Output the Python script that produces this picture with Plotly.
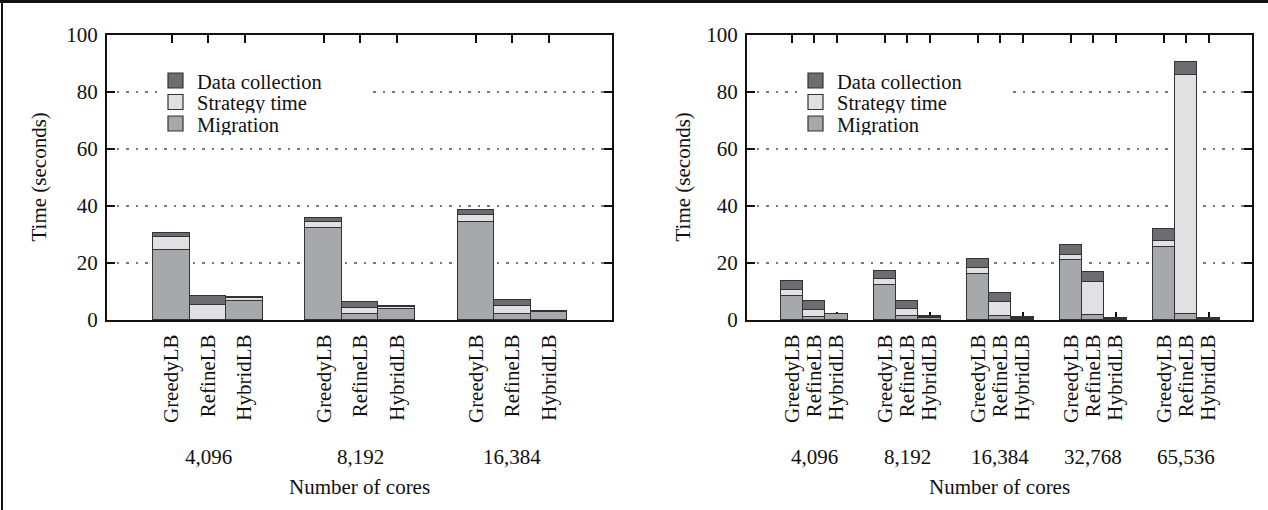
import plotly.graph_objects as go

# ---------------- data ----------------
methods = ["GreedyLB", "RefineLB", "HybridLB"]

left_cores = ["4,096", "8,192", "16,384"]
# order inside each list: for core count group -> [Greedy, Refine, Hybrid]
left_migration = [[24.6, 0.0, 6.6], [32.2, 2.0, 3.9], [34.5, 2.2, 2.8]]
left_strategy = [[4.6, 5.3, 1.0], [2.1, 2.2, 0.7], [2.5, 2.6, 0.2]]
left_data = [[1.2, 3.2, 0.6], [1.6, 2.1, 0.2], [1.5, 2.1, 0.3]]

right_cores = ["4,096", "8,192", "16,384", "32,768", "65,536"]
right_migration = [[8.5, 0.9, 2.0], [12.3, 1.3, 0.8], [16.0, 1.4, 0.5],
                   [20.9, 1.6, 0.3], [25.5, 2.0, 0.3]]
right_strategy = [[1.9, 2.7, 0.1], [2.0, 2.4, 0.1], [2.1, 4.9, 0.1],
                  [2.0, 11.6, 0.05], [2.1, 84.1, 0.05]]
right_data = [[3.2, 3.1, 0.1], [3.0, 3.1, 0.6], [3.3, 3.3, 0.3],
              [3.3, 3.5, 0.25], [4.2, 4.3, 0.25]]

series_names = ["Migration", "Strategy time", "Data collection"]
series_colors = ["#a7a8ac", "#e1e1e3", "#6d6d71"]

# ---------------- layout helpers ----------------
FONT = "Liberation Serif"
TXT = "#111111"
W, H = 1268, 510
GROUP_STEP = 4.17


def positions(n_groups):
    xs, labels = [], []
    for g in range(n_groups):
        for j, m in enumerate(methods):
            xs.append(g * GROUP_STEP + j)
            labels.append(m)
    return xs, labels


def flat(arr):
    return [v for grp in arr for v in grp]


fig = go.Figure()

panels = [
    ("x", "y", left_cores, [left_migration, left_strategy, left_data]),
    ("x2", "y2", right_cores, [right_migration, right_strategy, right_data]),
]

for xa, ya, cores, series in panels:
    xs, _ = positions(len(cores))
    for name, color, vals in zip(series_names, series_colors, series):
        fig.add_trace(go.Bar(
            x=xs, y=flat(vals), name=name, width=1,
            marker=dict(color=color, line=dict(color="#333333", width=1.5)),
            xaxis=xa, yaxis=ya, showlegend=False,
        ))

# pixel geometry of the two plot areas
L1, R1 = 107, 612
L2, R2 = 747, 1252
TOP, BOT = 35, 320


def px_x(p):
    return p / W


def px_y(p):
    return 1 - p / H


unit1 = 36.5
unit2 = 22.3
x1_left = -(171.5 - L1) / unit1
x1_range = [x1_left, x1_left + (R1 - L1) / unit1]
x2_left = -(792 - L2) / unit2
x2_range = [x2_left, x2_left + (R2 - L2) / unit2]

tick_font = dict(family=FONT, size=21, color=TXT)

common_x = dict(
    showline=True, linecolor=TXT, linewidth=2, mirror="ticks",
    ticks="inside", ticklen=8, tickwidth=1.5, tickcolor=TXT,
    tickangle=-90, tickfont=tick_font, showgrid=False, zeroline=False,
    ticklabelstandoff=4, layer="below traces", automargin=False,
)
common_y = dict(
    range=[0, 100], dtick=20, showline=True, linecolor=TXT, linewidth=2,
    mirror="ticks", ticks="inside", ticklen=8, tickwidth=1.5, tickcolor=TXT,
    tickfont=tick_font, showgrid=True, gridcolor="#7a7a7a", gridwidth=1.6,
    griddash="2.5px,7px", zeroline=False, ticklabelstandoff=3, automargin=False,
)

xs1, lab1 = positions(len(left_cores))
xs2, lab2 = positions(len(right_cores))

fig.update_layout(
    width=W, height=H,
    margin=dict(l=0, r=0, t=0, b=0, autoexpand=False),
    paper_bgcolor="white", plot_bgcolor="white",
    barmode="stack", bargap=0, showlegend=False,
    font=dict(family=FONT, size=21, color=TXT),
    xaxis=dict(domain=[px_x(L1), px_x(R1)], range=x1_range,
               tickvals=xs1, ticktext=lab1, anchor="y", **common_x),
    yaxis=dict(domain=[px_y(BOT), px_y(TOP)], anchor="x", **common_y),
    xaxis2=dict(domain=[px_x(L2), px_x(R2)], range=x2_range,
                tickvals=xs2, ticktext=lab2, anchor="y2", **common_x),
    yaxis2=dict(domain=[px_y(BOT), px_y(TOP)], anchor="x2", **common_y),
)

annotations = []
shapes = []
# group (core count) labels
for xa, cores in (("x", left_cores), ("x2", right_cores)):
    for g, c in enumerate(cores):
        annotations.append(dict(
            x=g * GROUP_STEP + 1, xref=xa, y=px_y(457), yref="paper",
            text=c, showarrow=False, xanchor="center", yanchor="middle",
            font=dict(family=FONT, size=21, color=TXT)))

# axis titles
for cx, yc in (((L1 + R1) / 2, 38), ((L2 + R2) / 2, 682)):
    annotations.append(dict(
        x=px_x(cx), xref="paper", y=px_y(487), yref="paper",
        text="Number of cores", showarrow=False, xanchor="center", yanchor="middle",
        font=dict(family=FONT, size=21, color=TXT)))
    annotations.append(dict(
        x=px_x(yc), xref="paper", y=px_y((TOP + BOT) / 2), yref="paper",
        text="Time (seconds)", showarrow=False, textangle=-90,
        xanchor="center", yanchor="middle",
        font=dict(family=FONT, size=21, color=TXT)))

# legends (key boxes inside each panel, white background)
legend_order = [2, 1, 0]  # Data collection, Strategy time, Migration
ROW = 21.5
for L in (L1, L2):
    shapes.append(dict(type="rect", xref="paper", yref="paper", layer="above",
                       x0=px_x(L + 55), x1=px_x(L + 263), y0=px_y(138), y1=px_y(65),
                       fillcolor="white", line=dict(width=0)))
    for row, idx in enumerate(legend_order):
        yc = 80.5 + ROW * row
        shapes.append(dict(type="rect", xref="paper", yref="paper", layer="above",
                           x0=px_x(L + 61), x1=px_x(L + 76),
                           y0=px_y(yc + 7.5), y1=px_y(yc - 7.5),
                           fillcolor=series_colors[idx],
                           line=dict(color="#333333", width=1.2)))
        annotations.append(dict(
            x=px_x(L + 89), xref="paper", y=px_y(yc + 1), yref="paper",
            text=series_names[idx], showarrow=False, xanchor="left", yanchor="middle",
            height=20, borderpad=0,
            font=dict(family=FONT, size=20.5, color=TXT)))

# outer frame (top and left edges)
shapes.append(dict(type="line", xref="paper", yref="paper", x0=0, x1=1,
                   y0=px_y(1.5), y1=px_y(1.5), line=dict(color=TXT, width=3)))
shapes.append(dict(type="line", xref="paper", yref="paper", x0=px_x(2), x1=px_x(2),
                   y0=0, y1=1, line=dict(color=TXT, width=2)))

fig.update_layout(annotations=annotations, shapes=shapes)

fig.write_html("out.html",
               config={"displayModeBar": False},
               post_script="document.body.style.margin='0';document.body.style.overflow='hidden';")
